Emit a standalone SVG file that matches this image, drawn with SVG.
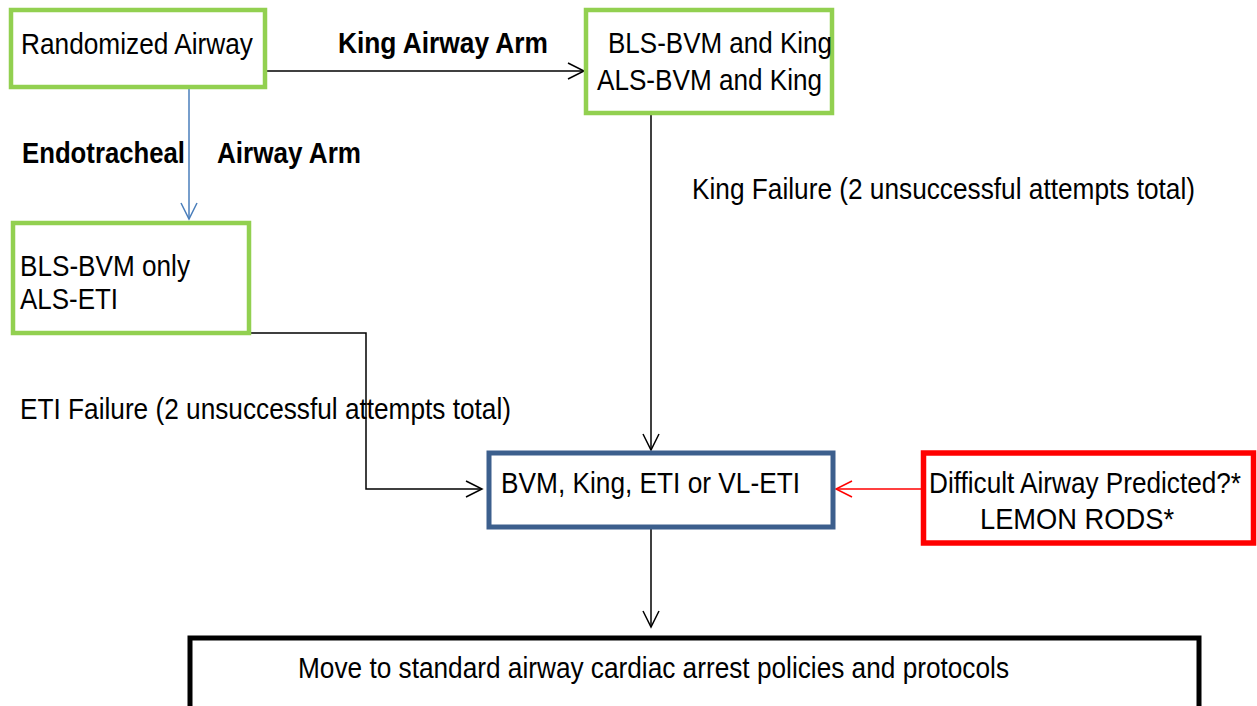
<svg xmlns="http://www.w3.org/2000/svg" width="1257" height="706" viewBox="0 0 1257 706">
<style>
text{font-family:"Liberation Sans",Arial,sans-serif;font-size:30px;fill:#000}
.b{font-weight:bold}
.g{fill:#fff;stroke:#92D050;stroke-width:4.5}
.c{fill:none;stroke:#000;stroke-width:1.5}
</style>
<defs>
<marker id="ak" markerWidth="20" markerHeight="20" refX="18" refY="10" orient="auto" markerUnits="userSpaceOnUse"><path d="M2,2 L18,10 L2,18" fill="none" stroke="#000" stroke-width="1.5"/></marker>
<marker id="ab" markerWidth="20" markerHeight="20" refX="18" refY="10" orient="auto" markerUnits="userSpaceOnUse"><path d="M2,2 L18,10 L2,18" fill="none" stroke="#4A7EBB" stroke-width="1.5"/></marker>
<marker id="ar" markerWidth="20" markerHeight="20" refX="18" refY="10" orient="auto" markerUnits="userSpaceOnUse"><path d="M2,2 L18,10 L2,18" fill="none" stroke="#FF0000" stroke-width="1.5"/></marker>
</defs>
<rect width="1257" height="706" fill="#fff"/>
<g id="connectors">
<path class="c" d="M265,71 H584" marker-end="url(#ak)"/>
<path d="M189,88 V219" fill="none" stroke="#4A7EBB" stroke-width="1.5" marker-end="url(#ab)"/>
<path class="c" d="M651,113 V450" marker-end="url(#ak)"/>
<path class="c" d="M249,333 H366 V489 H482" marker-end="url(#ak)"/>
<path d="M921,489 H836" fill="none" stroke="#FF0000" stroke-width="1.5" marker-end="url(#ar)"/>
<path class="c" d="M651,529 V627" marker-end="url(#ak)"/>
</g>
<g id="labels">
<text class="b" x="338" y="53" textLength="210" lengthAdjust="spacingAndGlyphs">King Airway Arm</text>
<text class="b" x="22" y="163" textLength="163" lengthAdjust="spacingAndGlyphs">Endotracheal</text>
<text class="b" x="217" y="163" textLength="144" lengthAdjust="spacingAndGlyphs">Airway Arm</text>
<text x="692" y="199" textLength="503" lengthAdjust="spacingAndGlyphs">King Failure (2 unsuccessful attempts total)</text>
<text x="20" y="419" textLength="491" lengthAdjust="spacingAndGlyphs">ETI Failure (2 unsuccessful attempts total)</text>
</g>
<g id="n-randomized">
<rect class="g" x="11" y="10" width="254" height="77"/>
<text x="21" y="54" textLength="232" lengthAdjust="spacingAndGlyphs">Randomized Airway</text>
</g>
<g id="n-king">
<rect class="g" x="586" y="10" width="246" height="103"/>
<text x="608" y="53" textLength="224" lengthAdjust="spacingAndGlyphs">BLS-BVM and King</text>
<text x="597" y="90" textLength="225" lengthAdjust="spacingAndGlyphs">ALS-BVM and King</text>
</g>
<g id="n-eti">
<rect class="g" x="13" y="223" width="236" height="110"/>
<text x="20" y="276" textLength="170" lengthAdjust="spacingAndGlyphs">BLS-BVM only</text>
<text x="20" y="309" textLength="98" lengthAdjust="spacingAndGlyphs">ALS-ETI</text>
</g>
<g id="n-options">
<rect x="489" y="453" width="344" height="74" fill="#fff" stroke="#3C5F8D" stroke-width="5"/>
<text x="501" y="493" textLength="299" lengthAdjust="spacingAndGlyphs">BVM, King, ETI or VL-ETI</text>
</g>
<g id="n-difficult">
<rect x="923.5" y="453" width="330" height="90" fill="#fff" stroke="#FF0000" stroke-width="5.5"/>
<text x="929" y="493" textLength="312" lengthAdjust="spacingAndGlyphs">Difficult Airway Predicted?*</text>
<text x="980" y="529" textLength="194" lengthAdjust="spacingAndGlyphs">LEMON RODS*</text>
</g>
<g id="n-standard">
<rect x="190" y="638" width="1009" height="80" fill="#fff" stroke="#000" stroke-width="5"/>
<text x="298" y="678" textLength="711" lengthAdjust="spacingAndGlyphs">Move to standard airway cardiac arrest policies and protocols</text>
</g>
</svg>
